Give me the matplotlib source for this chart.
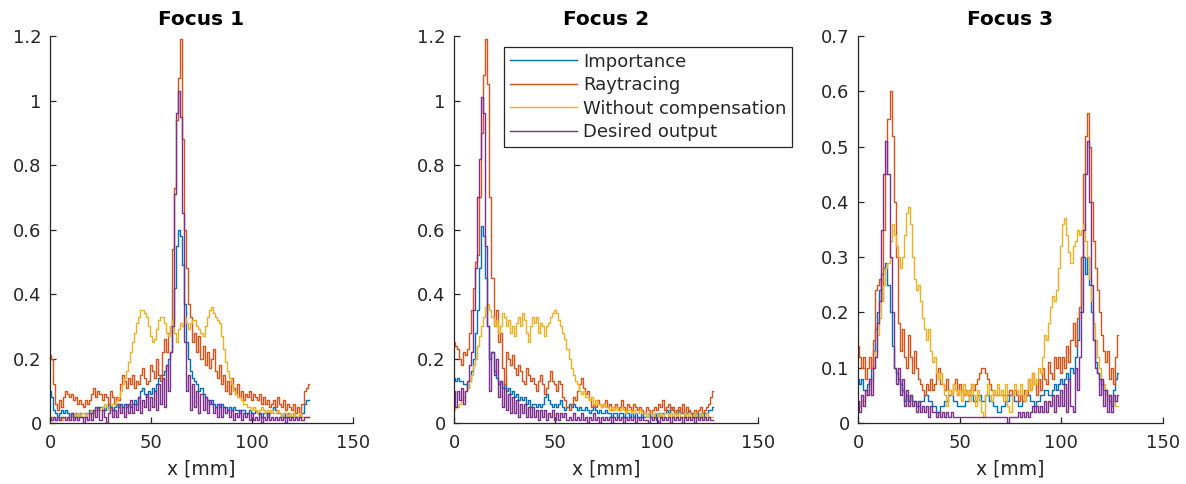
import matplotlib
matplotlib.use("Agg")
import matplotlib.pyplot as plt
import numpy as np

# ---------------- data (x in mm, 1 mm sampling) ----------------
x_mm = list(range(0, 129))

series_names = ["Importance", "Raytracing", "Without compensation", "Desired output"]
panel_titles = ["Focus 1", "Focus 2", "Focus 3"]
x_ticks = [0, 50, 100, 150]
y_ticks_12 = [0, 0.2, 0.4, 0.6, 0.8, 1.0, 1.2]
y_labels_12 = ["0", "0.2", "0.4", "0.6", "0.8", "1", "1.2"]
y_ticks_07 = [0, 0.1, 0.2, 0.3, 0.4, 0.5, 0.6, 0.7]
y_labels_07 = ["0", "0.1", "0.2", "0.3", "0.4", "0.5", "0.6", "0.7"]

# Focus 1
imp1 = [0.10, 0.08, 0.04, 0.03, 0.02, 0.03, 0.04, 0.03, 0.04, 0.03,
        0.02, 0.03, 0.02, 0.03, 0.02, 0.03, 0.02, 0.02, 0.03, 0.03,
        0.04, 0.03, 0.04, 0.05, 0.04, 0.05, 0.05, 0.04, 0.05, 0.06,
        0.05, 0.04, 0.05, 0.06, 0.05, 0.06, 0.05, 0.06, 0.05, 0.06,
        0.05, 0.06, 0.07, 0.06, 0.08, 0.10, 0.11, 0.09, 0.08, 0.10,
        0.09, 0.11, 0.10, 0.12, 0.14, 0.15, 0.15, 0.16, 0.18, 0.20,
        0.22, 0.32, 0.42, 0.55, 0.60, 0.58, 0.49, 0.37, 0.25, 0.20,
        0.16, 0.14, 0.13, 0.12, 0.10, 0.11, 0.09, 0.08, 0.07, 0.06,
        0.07, 0.06, 0.05, 0.06, 0.05, 0.06, 0.05, 0.05, 0.04, 0.05,
        0.04, 0.05, 0.04, 0.04, 0.03, 0.04, 0.04, 0.03, 0.03, 0.04,
        0.03, 0.03, 0.04, 0.03, 0.03, 0.02, 0.03, 0.03, 0.02, 0.03,
        0.04, 0.05, 0.04, 0.03, 0.03, 0.02, 0.03, 0.02, 0.03, 0.02,
        0.02, 0.03, 0.02, 0.02, 0.02, 0.03, 0.06, 0.07, 0.07]
ray1 = [0.21, 0.20, 0.12, 0.06, 0.04, 0.07, 0.05, 0.08, 0.10, 0.09,
        0.08, 0.09, 0.07, 0.08, 0.06, 0.07, 0.06, 0.05, 0.07, 0.06,
        0.07, 0.09, 0.11, 0.08, 0.10, 0.09, 0.07, 0.09, 0.08, 0.06,
        0.10, 0.08, 0.06, 0.08, 0.07, 0.12, 0.15, 0.13, 0.11, 0.14,
        0.12, 0.15, 0.11, 0.13, 0.12, 0.15, 0.17, 0.14, 0.12, 0.13,
        0.18, 0.16, 0.14, 0.20, 0.15, 0.13, 0.22, 0.26, 0.22, 0.28,
        0.30, 0.54, 0.73, 0.94, 1.07, 1.19, 0.88, 0.60, 0.48, 0.37,
        0.33, 0.25, 0.28, 0.22, 0.27, 0.20, 0.24, 0.18, 0.22, 0.17,
        0.20, 0.23, 0.16, 0.14, 0.18, 0.12, 0.15, 0.10, 0.13, 0.09,
        0.14, 0.11, 0.09, 0.12, 0.08, 0.10, 0.07, 0.09, 0.08, 0.10,
        0.07, 0.09, 0.08, 0.07, 0.09, 0.06, 0.08, 0.06, 0.07, 0.05,
        0.06, 0.07, 0.05, 0.08, 0.06, 0.05, 0.07, 0.04, 0.06, 0.05,
        0.04, 0.06, 0.03, 0.05, 0.02, 0.06, 0.10, 0.11, 0.12]
woc1 = [0.02, 0.02, 0.02, 0.01, 0.02, 0.02, 0.01, 0.02, 0.02, 0.01,
        0.02, 0.02, 0.03, 0.02, 0.03, 0.02, 0.03, 0.03, 0.02, 0.03,
        0.03, 0.04, 0.03, 0.04, 0.05, 0.04, 0.05, 0.06, 0.05, 0.04,
        0.05, 0.06, 0.06, 0.07, 0.08, 0.10, 0.12, 0.14, 0.16, 0.19,
        0.22, 0.25, 0.28, 0.31, 0.33, 0.35, 0.35, 0.34, 0.33, 0.30,
        0.27, 0.25, 0.26, 0.29, 0.32, 0.33, 0.33, 0.31, 0.28, 0.27,
        0.30, 0.32, 0.28, 0.25, 0.29, 0.31, 0.30, 0.33, 0.31, 0.29,
        0.31, 0.32, 0.32, 0.30, 0.29, 0.28, 0.27, 0.30, 0.33, 0.35,
        0.36, 0.34, 0.33, 0.32, 0.31, 0.27, 0.23, 0.19, 0.16, 0.14,
        0.12, 0.10, 0.09, 0.08, 0.08, 0.07, 0.06, 0.06, 0.05, 0.05,
        0.04, 0.05, 0.04, 0.03, 0.04, 0.05, 0.04, 0.03, 0.04, 0.03,
        0.04, 0.03, 0.03, 0.04, 0.03, 0.02, 0.03, 0.03, 0.02, 0.03,
        0.02, 0.03, 0.02, 0.02, 0.03, 0.02, 0.02, 0.02, 0.02]
des1 = [0.02, 0.01, 0.02, 0.01, 0.02, 0.01, 0.02, 0.02, 0.01, 0.02,
        0.01, 0.03, 0.01, 0.02, 0.01, 0.02, 0.02, 0.00, 0.02, 0.01,
        0.03, 0.01, 0.04, 0.02, 0.05, 0.01, 0.04, 0.02, 0.00, 0.03,
        0.05, 0.02, 0.04, 0.02, 0.06, 0.03, 0.05, 0.02, 0.06, 0.03,
        0.07, 0.03, 0.06, 0.04, 0.08, 0.03, 0.07, 0.05, 0.09, 0.04,
        0.08, 0.05, 0.10, 0.04, 0.12, 0.06, 0.14, 0.05, 0.18, 0.10,
        0.22, 0.30, 0.71, 0.96, 1.03, 0.95, 0.65, 0.25, 0.10, 0.15,
        0.04, 0.12, 0.05, 0.10, 0.03, 0.09, 0.04, 0.08, 0.03, 0.07,
        0.06, 0.03, 0.05, 0.02, 0.06, 0.02, 0.05, 0.03, 0.04, 0.02,
        0.04, 0.01, 0.03, 0.02, 0.04, 0.01, 0.03, 0.02, 0.03, 0.01,
        0.03, 0.01, 0.02, 0.01, 0.03, 0.00, 0.02, 0.01, 0.03, 0.01,
        0.02, 0.01, 0.02, 0.01, 0.02, 0.01, 0.02, 0.00, 0.02, 0.01,
        0.02, 0.01, 0.02, 0.01, 0.02, 0.01, 0.02, 0.02, 0.02]

# Focus 2
imp2 = [0.14, 0.13, 0.14, 0.13, 0.13, 0.12, 0.12, 0.11, 0.13, 0.16,
        0.20, 0.28, 0.35, 0.48, 0.61, 0.58, 0.45, 0.30, 0.20, 0.22,
        0.16, 0.14, 0.12, 0.13, 0.11, 0.12, 0.10, 0.11, 0.09, 0.10,
        0.08, 0.09, 0.07, 0.08, 0.07, 0.08, 0.06, 0.07, 0.05, 0.06,
        0.06, 0.05, 0.06, 0.05, 0.06, 0.08, 0.09, 0.07, 0.06, 0.05,
        0.06, 0.05, 0.06, 0.07, 0.05, 0.04, 0.05, 0.06, 0.05, 0.06,
        0.05, 0.04, 0.05, 0.04, 0.04, 0.05, 0.04, 0.03, 0.04, 0.05,
        0.04, 0.03, 0.04, 0.03, 0.03, 0.04, 0.03, 0.03, 0.02, 0.03,
        0.03, 0.02, 0.03, 0.03, 0.02, 0.03, 0.03, 0.02, 0.03, 0.02,
        0.03, 0.02, 0.02, 0.03, 0.02, 0.02, 0.03, 0.02, 0.02, 0.03,
        0.02, 0.03, 0.02, 0.03, 0.03, 0.04, 0.03, 0.05, 0.04, 0.03,
        0.03, 0.04, 0.03, 0.03, 0.02, 0.03, 0.04, 0.03, 0.03, 0.02,
        0.03, 0.02, 0.03, 0.02, 0.03, 0.03, 0.04, 0.04, 0.05]
ray2 = [0.25, 0.24, 0.23, 0.20, 0.18, 0.22, 0.21, 0.23, 0.28, 0.35,
        0.42, 0.50, 0.52, 0.70, 0.90, 1.08, 1.19, 1.05, 0.70, 0.45,
        0.30, 0.35, 0.25, 0.28, 0.17, 0.12, 0.22, 0.20, 0.18, 0.21,
        0.17, 0.15, 0.18, 0.16, 0.13, 0.12, 0.17, 0.15, 0.13, 0.14,
        0.12, 0.10, 0.13, 0.15, 0.12, 0.09, 0.11, 0.13, 0.16, 0.13,
        0.12, 0.10, 0.13, 0.12, 0.08, 0.07, 0.05, 0.04, 0.06, 0.08,
        0.07, 0.10, 0.12, 0.14, 0.11, 0.09, 0.10, 0.07, 0.05, 0.06,
        0.05, 0.07, 0.06, 0.05, 0.06, 0.07, 0.05, 0.06, 0.04, 0.05,
        0.06, 0.04, 0.05, 0.07, 0.05, 0.04, 0.06, 0.05, 0.04, 0.06,
        0.05, 0.04, 0.05, 0.04, 0.03, 0.05, 0.04, 0.03, 0.04, 0.05,
        0.04, 0.06, 0.05, 0.07, 0.04, 0.05, 0.06, 0.04, 0.05, 0.03,
        0.04, 0.05, 0.03, 0.06, 0.03, 0.05, 0.04, 0.03, 0.02, 0.04,
        0.03, 0.04, 0.05, 0.03, 0.04, 0.05, 0.06, 0.08, 0.10]
woc2 = [0.04, 0.05, 0.05, 0.06, 0.07, 0.08, 0.10, 0.11, 0.13, 0.15,
        0.18, 0.20, 0.24, 0.27, 0.30, 0.33, 0.36, 0.37, 0.35, 0.33,
        0.30, 0.32, 0.28, 0.30, 0.34, 0.33, 0.30, 0.32, 0.28, 0.30,
        0.27, 0.31, 0.33, 0.30, 0.34, 0.32, 0.28, 0.25, 0.30, 0.33,
        0.31, 0.33, 0.28, 0.31, 0.30, 0.27, 0.30, 0.31, 0.33, 0.34,
        0.35, 0.34, 0.32, 0.30, 0.28, 0.26, 0.23, 0.20, 0.17, 0.15,
        0.13, 0.12, 0.10, 0.09, 0.10, 0.08, 0.08, 0.07, 0.08, 0.06,
        0.07, 0.06, 0.06, 0.05, 0.06, 0.05, 0.05, 0.04, 0.05, 0.04,
        0.05, 0.04, 0.04, 0.05, 0.04, 0.03, 0.04, 0.04, 0.03, 0.04,
        0.03, 0.03, 0.04, 0.03, 0.03, 0.02, 0.03, 0.03, 0.02, 0.03,
        0.03, 0.02, 0.03, 0.02, 0.03, 0.03, 0.02, 0.03, 0.02, 0.03,
        0.02, 0.03, 0.02, 0.02, 0.03, 0.02, 0.03, 0.02, 0.02, 0.03,
        0.02, 0.02, 0.03, 0.02, 0.02, 0.03, 0.02, 0.02, 0.02]
des2 = [0.10, 0.05, 0.10, 0.07, 0.11, 0.06, 0.10, 0.13, 0.18, 0.22,
        0.35, 0.48, 0.70, 0.82, 1.01, 0.96, 0.55, 0.30, 0.10, 0.22,
        0.15, 0.20, 0.08, 0.13, 0.05, 0.11, 0.04, 0.09, 0.03, 0.08,
        0.03, 0.07, 0.02, 0.06, 0.03, 0.06, 0.02, 0.05, 0.02, 0.05,
        0.02, 0.04, 0.01, 0.04, 0.02, 0.04, 0.01, 0.03, 0.02, 0.04,
        0.01, 0.03, 0.01, 0.03, 0.02, 0.03, 0.01, 0.02, 0.01, 0.03,
        0.01, 0.02, 0.01, 0.03, 0.01, 0.02, 0.00, 0.02, 0.01, 0.03,
        0.01, 0.02, 0.00, 0.02, 0.01, 0.02, 0.01, 0.02, 0.00, 0.02,
        0.01, 0.02, 0.01, 0.02, 0.00, 0.02, 0.01, 0.02, 0.01, 0.02,
        0.00, 0.02, 0.01, 0.02, 0.01, 0.01, 0.00, 0.02, 0.01, 0.02,
        0.01, 0.00, 0.02, 0.01, 0.02, 0.01, 0.02, 0.00, 0.02, 0.01,
        0.02, 0.01, 0.02, 0.00, 0.02, 0.01, 0.02, 0.01, 0.02, 0.00,
        0.02, 0.01, 0.02, 0.01, 0.02, 0.01, 0.02, 0.01, 0.01]

# Focus 3
imp3 = [0.08, 0.07, 0.08, 0.06, 0.06, 0.07, 0.08, 0.10, 0.13, 0.17,
        0.20, 0.24, 0.27, 0.28, 0.29, 0.25, 0.20, 0.14, 0.10, 0.09,
        0.08, 0.07, 0.06, 0.04, 0.05, 0.04, 0.05, 0.04, 0.04, 0.03,
        0.03, 0.04, 0.04, 0.05, 0.05, 0.04, 0.04, 0.03, 0.03, 0.02,
        0.02, 0.03, 0.03, 0.04, 0.04, 0.05, 0.05, 0.04, 0.04, 0.03,
        0.03, 0.03, 0.03, 0.04, 0.04, 0.05, 0.05, 0.04, 0.04, 0.05,
        0.05, 0.04, 0.04, 0.05, 0.05, 0.04, 0.04, 0.03, 0.03, 0.02,
        0.02, 0.03, 0.03, 0.04, 0.04, 0.05, 0.05, 0.04, 0.04, 0.03,
        0.03, 0.04, 0.04, 0.05, 0.05, 0.04, 0.04, 0.03, 0.04, 0.04,
        0.05, 0.05, 0.06, 0.06, 0.05, 0.05, 0.06, 0.07, 0.06, 0.07,
        0.08, 0.07, 0.08, 0.09, 0.08, 0.10, 0.09, 0.12, 0.15, 0.20,
        0.30, 0.30, 0.27, 0.30, 0.25, 0.20, 0.15, 0.11, 0.09, 0.08,
        0.07, 0.06, 0.06, 0.05, 0.04, 0.03, 0.06, 0.08, 0.09]
ray3 = [0.14, 0.12, 0.10, 0.12, 0.08, 0.10, 0.12, 0.10, 0.15, 0.24,
        0.25, 0.26, 0.22, 0.35, 0.45, 0.55, 0.60, 0.52, 0.40, 0.30,
        0.18, 0.13, 0.17, 0.12, 0.10, 0.16, 0.12, 0.09, 0.13, 0.10,
        0.08, 0.07, 0.06, 0.05, 0.07, 0.06, 0.08, 0.06, 0.07, 0.09,
        0.10, 0.07, 0.07, 0.06, 0.08, 0.06, 0.05, 0.07, 0.08, 0.05,
        0.07, 0.06, 0.05, 0.06, 0.05, 0.06, 0.07, 0.06, 0.07, 0.08,
        0.09, 0.10, 0.10, 0.09, 0.08, 0.07, 0.06, 0.05, 0.05, 0.05,
        0.05, 0.05, 0.05, 0.05, 0.05, 0.06, 0.05, 0.06, 0.05, 0.04,
        0.05, 0.04, 0.06, 0.05, 0.08, 0.06, 0.09, 0.07, 0.05, 0.08,
        0.06, 0.10, 0.08, 0.07, 0.11, 0.09, 0.08, 0.12, 0.10, 0.12,
        0.09, 0.12, 0.10, 0.14, 0.11, 0.15, 0.18, 0.14, 0.19, 0.21,
        0.30, 0.45, 0.52, 0.56, 0.50, 0.40, 0.33, 0.28, 0.24, 0.20,
        0.16, 0.13, 0.11, 0.13, 0.08, 0.10, 0.07, 0.12, 0.16]
woc3 = [0.03, 0.03, 0.04, 0.04, 0.05, 0.06, 0.07, 0.08, 0.10, 0.13,
        0.16, 0.19, 0.22, 0.25, 0.28, 0.29, 0.33, 0.36, 0.34, 0.32,
        0.30, 0.28, 0.30, 0.34, 0.38, 0.39, 0.36, 0.30, 0.26, 0.24,
        0.25, 0.22, 0.19, 0.17, 0.15, 0.17, 0.13, 0.11, 0.12, 0.09,
        0.08, 0.09, 0.07, 0.05, 0.03, 0.06, 0.05, 0.07, 0.06, 0.05,
        0.06, 0.04, 0.07, 0.05, 0.06, 0.04, 0.07, 0.05, 0.03, 0.06,
        0.04, 0.02, 0.01, 0.05, 0.07, 0.05, 0.04, 0.06, 0.05, 0.07,
        0.05, 0.06, 0.04, 0.07, 0.03, 0.02, 0.05, 0.07, 0.06, 0.05,
        0.07, 0.05, 0.04, 0.06, 0.08, 0.06, 0.09, 0.07, 0.08, 0.10,
        0.09, 0.12, 0.16, 0.15, 0.18, 0.21, 0.23, 0.22, 0.24, 0.28,
        0.32, 0.36, 0.37, 0.34, 0.31, 0.29, 0.32, 0.33, 0.35, 0.34,
        0.35, 0.36, 0.33, 0.30, 0.26, 0.22, 0.18, 0.15, 0.12, 0.10,
        0.08, 0.07, 0.06, 0.05, 0.05, 0.04, 0.04, 0.03, 0.03]
des3 = [0.04, 0.02, 0.05, 0.03, 0.06, 0.05, 0.08, 0.05, 0.10, 0.12,
        0.18, 0.22, 0.35, 0.45, 0.51, 0.45, 0.30, 0.20, 0.10, 0.07,
        0.10, 0.05, 0.08, 0.03, 0.06, 0.03, 0.05, 0.03, 0.04, 0.02,
        0.04, 0.02, 0.03, 0.02, 0.03, 0.01, 0.03, 0.02, 0.02, 0.01,
        0.02, 0.01, 0.02, 0.01, 0.02, 0.01, 0.02, 0.01, 0.01, 0.01,
        0.01, 0.01, 0.01, 0.01, 0.01, 0.01, 0.01, 0.01, 0.01, 0.01,
        0.01, 0.01, 0.01, 0.01, 0.01, 0.01, 0.01, 0.01, 0.01, 0.01,
        0.01, 0.01, 0.01, 0.01, 0.00, 0.01, 0.01, 0.01, 0.01, 0.02,
        0.01, 0.02, 0.01, 0.02, 0.01, 0.02, 0.03, 0.02, 0.03, 0.02,
        0.03, 0.02, 0.04, 0.02, 0.04, 0.03, 0.05, 0.02, 0.05, 0.03,
        0.06, 0.03, 0.07, 0.02, 0.08, 0.03, 0.02, 0.10, 0.06, 0.12,
        0.20, 0.35, 0.45, 0.51, 0.40, 0.25, 0.15, 0.10, 0.09, 0.05,
        0.08, 0.03, 0.06, 0.02, 0.05, 0.02, 0.05, 0.04, 0.05]

panels = [
    (imp1, ray1, woc1, des1),
    (imp2, ray2, woc2, des2),
    (imp3, ray3, woc3, des3),
]
y_limits = [1.2, 1.2, 0.7]

# ---------------- style ----------------
colors = ["#0072BD", "#D95319", "#EDB120", "#7E2F8E"]
axis_color = "#262626"
plt.rcParams["font.family"] = ["DejaVu Sans"]

fig = plt.figure(figsize=(11.86, 4.84), dpi=100)
positions = [
    [50 / 1186, 61 / 484, 303 / 1186, 387 / 484],
    [454 / 1186, 61 / 484, 304 / 1186, 387 / 484],
    [858 / 1186, 61 / 484, 305 / 1186, 387 / 484],
]

for i, (pos, data, title, ylim) in enumerate(zip(positions, panels, panel_titles, y_limits)):
    ax = fig.add_axes(pos)
    handles = []
    for vals, col, name in zip(data, colors, series_names):
        h, = ax.step(x_mm, vals, where="mid", color=col, linewidth=1.0, label=name)
        handles.append(h)
    ax.set_xlim(0, 150)
    ax.set_ylim(0, ylim)
    ax.set_xticks(x_ticks)
    ax.set_xticklabels([str(t) for t in x_ticks])
    if ylim > 1:
        ax.set_yticks(y_ticks_12)
        ax.set_yticklabels(y_labels_12)
    else:
        ax.set_yticks(y_ticks_07)
        ax.set_yticklabels(y_labels_07)
    for side in ["top", "right"]:
        ax.spines[side].set_visible(False)
    for side in ["left", "bottom"]:
        ax.spines[side].set_color(axis_color)
        ax.spines[side].set_linewidth(0.9)
    ax.tick_params(direction="in", length=4, width=0.9, colors=axis_color,
                   labelsize=13, labelcolor=axis_color)
    ax.tick_params(axis="x", pad=8)
    ax.tick_params(axis="y", pad=6)
    ax.set_xlabel("x [mm]", fontsize=13.5, color=axis_color, labelpad=5)
    ax.set_title(title, fontsize=14.5, fontweight="bold", color="black", pad=8)
    if i == 1:
        leg = ax.legend(handles=handles, loc="upper right",
                        bbox_to_anchor=(792 / 1186, 1 - 47 / 484),
                        bbox_transform=fig.transFigure,
                        fontsize=13, frameon=True, fancybox=False,
                        framealpha=1, edgecolor=axis_color,
                        handlelength=3.75, handletextpad=0.3,
                        labelspacing=0.3, borderpad=0.32, borderaxespad=0)
        leg.get_frame().set_linewidth(0.9)
        for t in leg.get_texts():
            t.set_color(axis_color)

fig.savefig("out.png", dpi=100)
